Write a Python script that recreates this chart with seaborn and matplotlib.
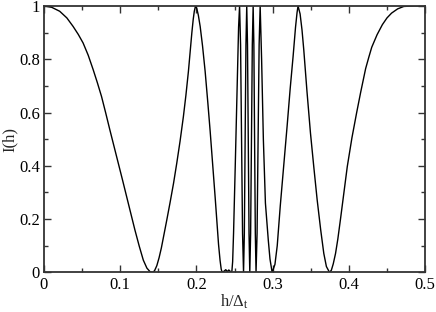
import matplotlib
matplotlib.use("Agg")
import matplotlib.pyplot as plt
from matplotlib.ticker import MultipleLocator
import seaborn as sns

# curve: h/Delta_t and I(h)
h_vals = [
    0.000, 0.010, 0.0206, 0.030, 0.0382, 0.045, 0.0513, 0.058, 0.0645, 0.070,
    0.0755, 0.081, 0.0864, 0.092, 0.0974, 0.103, 0.1084, 0.114, 0.1193, 0.125,
    0.1303, 0.135, 0.139, 0.1425,
    0.1450, 0.1480, 0.1510, 0.1540, 0.1566, 0.1610, 0.1654, 0.1700, 0.1742, 0.1785,
    0.1829, 0.1862, 0.1895, 0.1920, 0.1940, 0.1958, 0.1972, 0.1988,
    0.2005, 0.2025, 0.2049, 0.2080, 0.2114, 0.2150, 0.2180, 0.2215, 0.2246, 0.2270,
    0.2290, 0.2310, 0.2325, 0.2338,
    0.236, 0.2385, 0.2405, 0.2425, 0.2450, 0.2465,
    0.2475, 0.2487, 0.2498, 0.2509, 0.2525, 0.254, 0.2553, 0.2566,
    0.2579, 0.2592, 0.2605, 0.2618,
    0.26285, 0.2639, 0.26495, 0.266,
    0.267, 0.268, 0.269, 0.270,
    0.2711, 0.2722, 0.2733, 0.2744,
    0.27535, 0.2763, 0.27725, 0.2782,
    0.27955, 0.2809, 0.28225, 0.2836,
    0.2855, 0.2878, 0.2905, 0.2943, 0.2965, 0.2993,
    0.3030, 0.3060, 0.3100, 0.3145, 0.3190, 0.3230, 0.3268, 0.3300, 0.3320, 0.3333,
    0.3360, 0.3385, 0.3408, 0.3450, 0.3496, 0.3540, 0.3584, 0.3630, 0.3671, 0.3705,
    0.3746,
    0.3770, 0.3795, 0.3825, 0.3855, 0.3890, 0.3935, 0.3979, 0.4040, 0.4101, 0.4154,
    0.4220, 0.4262, 0.4300, 0.4370, 0.4440, 0.4500, 0.4560, 0.4640, 0.4720, 0.4850,
    0.5000,
]
i_vals = [
    1.000, 0.995, 0.980, 0.955, 0.923, 0.893, 0.861, 0.815, 0.761, 0.712,
    0.660, 0.598, 0.535, 0.472, 0.410, 0.347, 0.284, 0.220, 0.159, 0.098,
    0.046, 0.016, 0.003, 0.000,
    0.006, 0.025, 0.055, 0.092, 0.130, 0.195, 0.262, 0.335, 0.410, 0.492,
    0.585, 0.665, 0.755, 0.835, 0.900, 0.950, 0.980, 1.000,
    0.990, 0.965, 0.923, 0.850, 0.755, 0.635, 0.530, 0.400, 0.280, 0.185,
    0.105, 0.045, 0.012, 0.000,
    0.004, 0.010, 0.003, 0.009, 0.002, 0.004,
    0.040, 0.147, 0.270, 0.397, 0.590, 0.773, 0.920, 1.000,
    0.854, 0.500, 0.146, 0.000,
    0.146, 0.500, 0.854, 1.000,
    0.854, 0.500, 0.146, 0.000,
    0.146, 0.500, 0.854, 1.000,
    0.854, 0.500, 0.146, 0.000,
    0.146, 0.500, 0.854, 1.000,
    0.800, 0.500, 0.260, 0.120, 0.050, 0.000,
    0.030, 0.100, 0.250, 0.400, 0.550, 0.690, 0.810, 0.920, 0.975, 1.000,
    0.970, 0.910, 0.836, 0.680, 0.523, 0.395, 0.272, 0.160, 0.071, 0.022,
    0.000,
    0.008, 0.032, 0.071, 0.125, 0.200, 0.300, 0.397, 0.505, 0.598, 0.675,
    0.765, 0.808, 0.845, 0.892, 0.930, 0.955, 0.973, 0.989, 0.998, 1.000,
    1.000,
]

x_ticks = [0, 0.1, 0.2, 0.3, 0.4, 0.5]
x_ticklabels = ["0", "0.1", "0.2", "0.3", "0.4", "0.5"]
y_ticks = [0, 0.2, 0.4, 0.6, 0.8, 1.0]
y_ticklabels = ["0", "0.2", "0.4", "0.6", "0.8", "1"]

sns.set_style("ticks")
plt.rcParams["font.family"] = ["Liberation Serif", "DejaVu Serif"]
plt.rcParams["mathtext.fontset"] = "custom"
plt.rcParams["mathtext.rm"] = "Liberation Serif"
plt.rcParams["mathtext.it"] = "Liberation Serif"

fig = plt.figure(figsize=(4.36, 3.12), dpi=100)
ax = fig.add_axes([0.1009, 0.127, 0.8741, 0.854])

sns.lineplot(x=h_vals, y=i_vals, ax=ax, color="black", linewidth=1.0,
             estimator=None, sort=False)

ax.set_xlim(0, 0.5)
ax.set_ylim(0, 1)
ax.set_xticks(x_ticks)
ax.set_xticklabels(x_ticklabels)
ax.set_yticks(y_ticks)
ax.set_yticklabels(y_ticklabels)
ax.xaxis.set_minor_locator(MultipleLocator(0.05))
ax.yaxis.set_minor_locator(MultipleLocator(0.1))
ax.tick_params(which="both", direction="in", top=True, right=True,
               labelsize=12, colors="#333333", labelcolor="black", width=1.0)
ax.tick_params(which="major", length=5, pad=3)
ax.tick_params(which="minor", length=3)
for sp in ax.spines.values():
    sp.set_color("#333333")
    sp.set_linewidth(1.3)

ax.set_xlabel(r"h/$\Delta_{\mathrm{t}}$", fontsize=12, labelpad=0)
ax.set_ylabel("I(h)", fontsize=12, labelpad=1)

fig.savefig("out.png", dpi=100)
